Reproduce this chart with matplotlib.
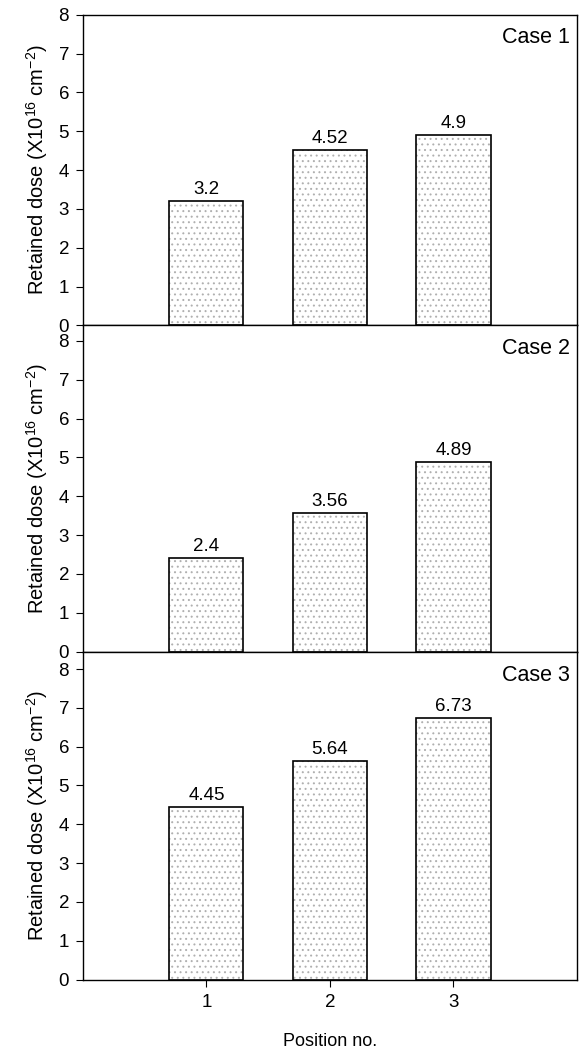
import numpy as np
import matplotlib
matplotlib.use("Agg")
import matplotlib.pyplot as plt

plt.rcParams["font.family"] = ["Liberation Sans", "DejaVu Sans"]
plt.rcParams["mathtext.fontset"] = "custom"
plt.rcParams["mathtext.rm"] = "Liberation Sans"
plt.rcParams["mathtext.it"] = "Liberation Sans:italic"
plt.rcParams["hatch.linewidth"] = 0.7

positions = [1, 2, 3]
case_names = ["Case 1", "Case 2", "Case 3"]
case1 = [3.2, 4.52, 4.9]
case2 = [2.4, 3.56, 4.89]
case3 = [4.45, 5.64, 6.73]
labels1 = ["3.2", "4.52", "4.9"]
labels2 = ["2.4", "3.56", "4.89"]
labels3 = ["4.45", "5.64", "6.73"]
y_tops = [8.0, 8.4, 8.45]
y_ticks = [0, 1, 2, 3, 4, 5, 6, 7, 8]

fig = plt.figure(figsize=(5.84, 10.5), dpi=100)
gs = fig.add_gridspec(3, 1, height_ratios=y_tops, hspace=0,
                      left=0.142, right=0.988, top=0.986, bottom=0.067)

cases = [(case1, labels1), (case2, labels2), (case3, labels3)]
ylabel = r"Retained dose (X10$^{\mathrm{16}}$ cm$^{\mathrm{-2}}$)"

for i, (vals, labs) in enumerate(cases):
    ax = fig.add_subplot(gs[i])
    # dotted texture in gray, outline in black
    ax.bar(positions, vals, width=0.6, color="white", edgecolor="#b0b0b0",
           hatch="...", linewidth=0, zorder=2)
    ax.bar(positions, vals, width=0.6, fill=False, edgecolor="black",
           linewidth=1.2, zorder=3)
    for p, v, t in zip(positions, vals, labs):
        ax.text(p, v + 0.08, t, ha="center", va="bottom", fontsize=13.5)
    ax.set_xlim(0, 4)
    ax.set_ylim(0, y_tops[i])
    ax.set_yticks(y_ticks)
    ax.set_xticks(positions)
    ax.tick_params(axis="both", direction="out", length=5, width=0.8,
                   labelsize=13.5, pad=5)
    if i < 2:
        ax.tick_params(axis="x", labelbottom=False)
    ax.set_ylabel(ylabel, fontsize=14.5, labelpad=6)
    ax.text(0.985, 0.96, case_names[i], transform=ax.transAxes,
            ha="right", va="top", fontsize=15.5)
    for s in ax.spines.values():
        s.set_linewidth(1.0)

ax.set_xlabel("Position no.", fontsize=13, labelpad=16)

fig.savefig("out.png", dpi=100)
